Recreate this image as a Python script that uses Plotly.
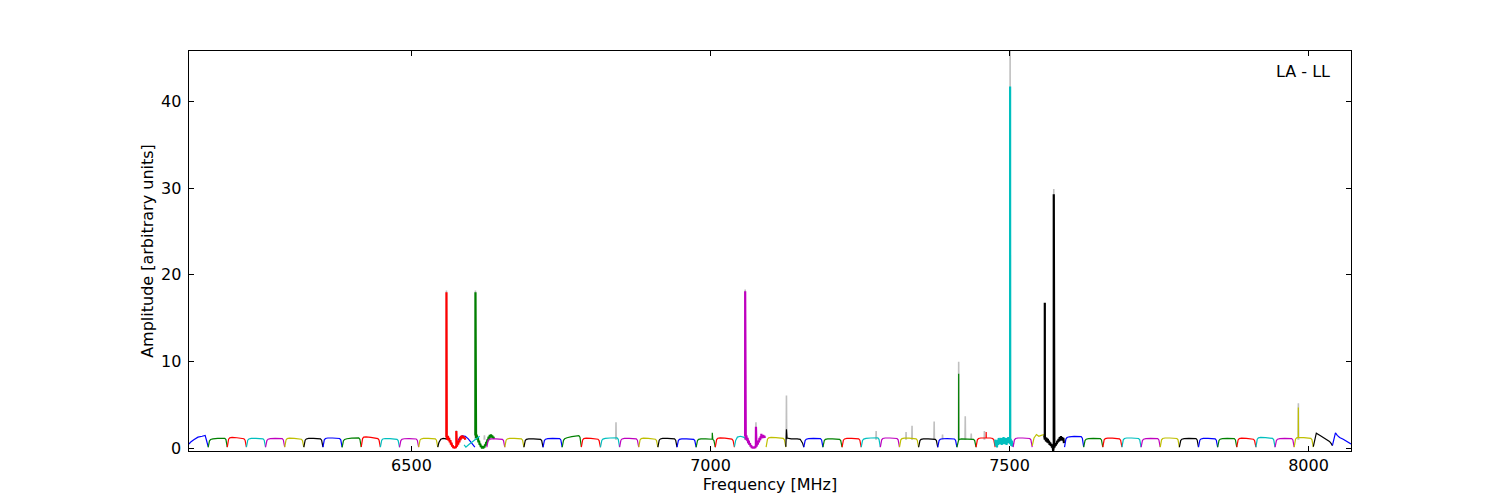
import numpy as np
import plotly.graph_objects as go

# ---------------- data ----------------
# colour cycle (matplotlib classic b g r c m y k)
colors = ['#0000ff', '#008000', '#ff0000', '#00bfbf', '#bf00bf', '#bfbf00', '#000000']

# 64 spectral windows: start / end frequency [MHz]
seg_start = [6128, 6160, 6192, 6224, 6256, 6288, 6320, 6352, 6384, 6416, 6448, 6480, 6512,
             6544, 6578, 6607, 6559, 6588, 6626,
             6656, 6688, 6720, 6752, 6784, 6816, 6848, 6880, 6912, 6944, 6976, 7008,
             7040, 7058, 7093, 7126,
             7156, 7188, 7220, 7252, 7284, 7316, 7348, 7380, 7412, 7444,
             7476, 7506, 7538, 7558,
             7592, 7624, 7656, 7688, 7720, 7752, 7784, 7816, 7848, 7880, 7912, 7944, 7976,
             8008, 8040]
seg_end = [6160, 6192, 6224, 6256, 6288, 6320, 6352, 6384, 6416, 6448, 6480, 6512, 6544,
           6562, 6606, 6638, 6590, 6614, 6656,
           6688, 6720, 6752, 6784, 6816, 6848, 6880, 6912, 6944, 6976, 7008, 7040,
           7064, 7091, 7126, 7156,
           7188, 7220, 7252, 7284, 7316, 7348, 7380, 7412, 7444, 7476,
           7506, 7538, 7558, 7591,
           7624, 7656, 7688, 7720, 7752, 7784, 7816, 7848, 7880, 7912, 7944, 7976, 8008,
           8040, 8071]
# plateau level at left / right of each window
seg_level_l = [1.2, 1.05, 1.3, 1.15, 1.1, 1.2, 1.15, 1.2, 1.05, 1.4, 1.15, 1.1, 1.15,
               1.1, 1.2, 1.2, 1.2, 1.2, 1.1,
               1.15, 1.1, 1.1, 1.1, 1.2, 1.1, 1.15, 1.2, 1.15, 1.1, 1.1, 1.25,
               1.3, 1.2, 1.3, 1.1,
               1.1, 1.1, 1.15, 1.1, 1.2, 1.2, 1.1, 1.1, 1.1, 1.2,
               1.0, 1.2, 1.3, 1.2,
               1.3, 1.1, 1.2, 1.2, 1.1, 1.2, 1.1, 1.15, 1.1, 1.2, 1.3, 1.1, 1.3,
               1.7, 1.7]
seg_level_r = [1.5, 1.25, 1.15, 1.15, 1.2, 1.1, 1.15, 1.2, 1.3, 1.15, 1.1, 1.15, 1.15,
               1.1, 1.2, 1.2, 1.2, 1.2, 1.1,
               1.15, 1.1, 1.2, 1.6, 1.1, 1.3, 1.15, 1.1, 1.15, 1.1, 1.1, 1.1,
               1.3, 1.2, 1.2, 1.1,
               1.2, 1.1, 1.15, 1.3, 1.2, 1.15, 1.1, 1.15, 1.1, 1.2,
               1.0, 1.2, 1.3, 1.2,
               1.45, 1.2, 1.15, 1.2, 1.2, 1.2, 1.2, 1.15, 1.2, 1.1, 1.2, 1.2, 1.2,
               0.5, 0.5]
# bandpass profile of a window (fraction of width, fraction of plateau)
tmpl_frac = [0.0, 0.03, 0.07, 0.13, 0.25, 0.5, 0.75, 0.87, 0.93, 0.97, 1.0]
tmpl_shape = [0.12, 0.5, 0.82, 0.95, 1.0, 1.0, 1.0, 0.95, 0.82, 0.5, 0.12]

# windows whose profile is read point by point (index -> x, y)
explicit = {
    0: ([6128, 6131, 6136, 6143, 6150, 6155, 6157, 6160],
        [0.5, 0.75, 1.0, 1.3, 1.4, 1.5, 1.0, 0.2]),
    13: ([6544, 6546, 6549, 6553, 6558, 6562],
         [0.15, 0.7, 1.05, 1.15, 1.1, 1.2]),
    14: ([6578, 6581, 6585, 6590, 6595, 6600, 6604, 6606],
         [0.9, 1.3, 1.45, 1.4, 1.1, 0.7, 0.3, 0.15]),
    15: (list(range(6607, 6639)),
         [1.5, 1.2, 1.6, 1.0, 1.3, 0.7, 0.9, 0.4, 0.55, 0.15, 0.3, 0.0, 0.15, 0.0, 0.25, 0.1,
          0.45, 0.3, 0.75, 0.55, 1.05, 0.85, 1.35, 1.1, 1.55, 1.25, 1.6, 1.3, 1.5, 1.2, 1.35, 1.1]),
    16: (list(range(6559, 6591)),
         [1.3, 1.0, 1.45, 0.9, 1.2, 0.7, 0.95, 0.45, 0.65, 0.2, 0.35, 0.05, 0.15, 0.0, 0.2, 0.05,
          0.35, 0.2, 0.6, 0.45, 0.9, 0.7, 1.2, 0.95, 1.45, 1.15, 1.5, 1.2, 1.4, 1.15, 1.25, 1.0]),
    17: ([6588, 6591, 6596, 6602, 6608, 6614],
         [0.4, 0.15, 0.45, 0.8, 1.15, 1.4]),
    31: ([7040, 7042, 7045, 7050, 7055, 7060, 7064],
         [0.2, 0.9, 1.3, 1.4, 1.3, 1.1, 0.5]),
    32: (list(range(7058, 7092)),
         [1.4, 1.0, 1.5, 0.9, 1.2, 0.6, 0.9, 0.4, 0.6, 0.2, 0.35, 0.05, 0.2, 0.0, 0.15, 0.0, 0.2,
          0.05, 0.4, 0.2, 0.65, 0.45, 0.9, 0.7, 1.2, 0.95, 1.4, 1.15, 1.5, 1.2, 1.55, 1.25, 1.45, 1.2]),
    34: ([7126, 7127, 7128, 7130, 7135, 7145, 7150, 7154, 7156],
         [0.2, 2.2, 1.2, 1.15, 1.1, 1.1, 1.05, 0.6, 0.15]),
    45: (list(range(7476, 7507)),
         [1.0, 0.3, 0.9, 0.1, 1.0, 0.4, 1.2, 0.5, 0.9, 0.6, 1.2, 0.4, 1.0, 0.7, 1.3, 0.5,
          1.1, 0.6, 1.2, 0.4, 1.0, 0.8, 1.3, 0.6, 1.0, 0.5, 1.1, 0.3, 0.9, 0.2, 0.6]),
    47: ([7538, 7541, 7545, 7549, 7553, 7558],
         [0.3, 1.2, 1.6, 1.4, 1.5, 1.6]),
    48: (list(range(7558, 7592)),
         [1.5, 1.0, 1.3, 0.8, 1.2, 0.7, 1.1, 0.6, 0.9, 0.4, 0.7, 0.3, 0.5, 0.1, 0.3, -0.3, 0.2,
          0.1, 0.4, 0.3, 0.6, 0.5, 0.9, 0.7, 1.1, 0.8, 1.3, 0.9, 1.4, 1.0, 1.3, 0.9, 1.2, 0.6]),
    62: ([8008, 8010, 8013, 8020, 8028, 8035, 8038, 8040],
         [0.2, 1.0, 1.75, 1.45, 1.1, 0.8, 0.55, 0.3]),
    63: ([8040, 8042, 8045, 8048, 8052, 8058, 8065, 8071],
         [0.35, 1.0, 1.8, 1.5, 1.25, 1.05, 0.8, 0.5]),
}
thick_segments = [15, 16, 32, 45, 48]

# narrow lines drawn in the window colour: window index, frequency, peak
spike_seg = [16, 16, 15, 29, 32, 32, 32, 43, 44, 45, 48, 48, 61]
spike_freq = [6558.5, 6575, 6607, 7003, 7058, 7076, 7085, 7415, 7461, 7501, 7559, 7574, 7983]
spike_amp = [18.0, 2.0, 18.0, 1.8, 18.1, 2.5, 1.7, 8.6, 1.9, 41.7, 16.8, 29.3, 4.7]

# light-grey lines behind the coloured spectrum
gray_freq = [6558.5, 6575, 6607, 6622, 6842, 7058, 7076, 7127, 7277, 7327, 7337, 7374,
             7388, 7415, 7426, 7436, 7458, 7501, 7574, 7983]
gray_amp = [18.2, 2.1, 18.2, 1.5, 3.0, 18.3, 3.0, 6.1, 2.0, 1.9, 2.6, 3.1,
            1.6, 10.0, 3.7, 1.7, 2.0, 45.8, 29.9, 5.2]

x_range = [6128, 8071]
y_range = [-0.3, 45.8]
x_ticks = [6500, 7000, 7500, 8000]
y_ticks = [0, 10, 20, 30, 40]

# ---------------- build figure ----------------
fig = go.Figure()

# grey background lines
gx, gy = [], []
for f, h in zip(gray_freq, gray_amp):
    gx += [f - 0.4, f, f + 0.4, None]
    gy += [1.0, h, 1.0, None]
fig.add_trace(go.Scatter(x=gx, y=gy, mode='lines', line=dict(color='#c0c0c0', width=1.6),
                         showlegend=False, hoverinfo='skip'))

for i in range(len(seg_start)):
    if i in explicit:
        xs, ys = explicit[i]
        xs = list(map(float, xs)); ys = list(map(float, ys))
    else:
        s, e = seg_start[i], seg_end[i]
        xs, ys = [], []
        for fr, sh in zip(tmpl_frac, tmpl_shape):
            xs.append(s + fr * (e - s))
            lvl = seg_level_l[i] + fr * (seg_level_r[i] - seg_level_l[i])
            ys.append(sh * lvl)
    pts = list(zip(xs, ys))
    for k, f, h in zip(spike_seg, spike_freq, spike_amp):
        if k == i:
            base = float(np.interp(f, xs, ys))
            pts += [(f - 0.15, base), (f, h), (f + 0.15, base)]
    pts.sort(key=lambda p: p[0])
    w = 2.2 if i in thick_segments else 1.2
    fig.add_trace(go.Scatter(x=[p[0] for p in pts], y=[p[1] for p in pts], mode='lines',
                             line=dict(color=colors[i % 7], width=w),
                             showlegend=False, hoverinfo='skip'))

font = dict(family='DejaVu Sans', size=16, color='black')
axis_common = dict(showline=True, linecolor='black', linewidth=1, mirror='ticks',
                   ticks='inside', ticklen=5, tickcolor='black', showgrid=False,
                   zeroline=False, tickfont=font)

# y tick labels placed at the axis' own tick values
ytick_ann = [dict(text=str(v), xref='paper', yref='y', x=0, y=v, xanchor='right',
                  yanchor='middle', xshift=-6, showarrow=False, font=font) for v in y_ticks]

fig.update_layout(
    width=1500, height=500,
    margin=dict(l=181, r=157, t=43, b=57),
    plot_bgcolor='white', paper_bgcolor='white',
    font=font,
    xaxis=dict(range=x_range, tickvals=x_ticks, title=dict(text='Frequency [MHz]', font=font, standoff=3),
               **axis_common),
    yaxis=dict(range=y_range, tickvals=y_ticks, showticklabels=False,
               title=dict(text='Amplitude [arbitrary units]', font=font, standoff=30),
               **axis_common),
    annotations=ytick_ann + [dict(text='LA - LL', xref='paper', yref='paper', x=0.9836, y=0.95,
                                  xanchor='right', yanchor='middle', showarrow=False, font=font)],
)

fig.write_html('out.html')
